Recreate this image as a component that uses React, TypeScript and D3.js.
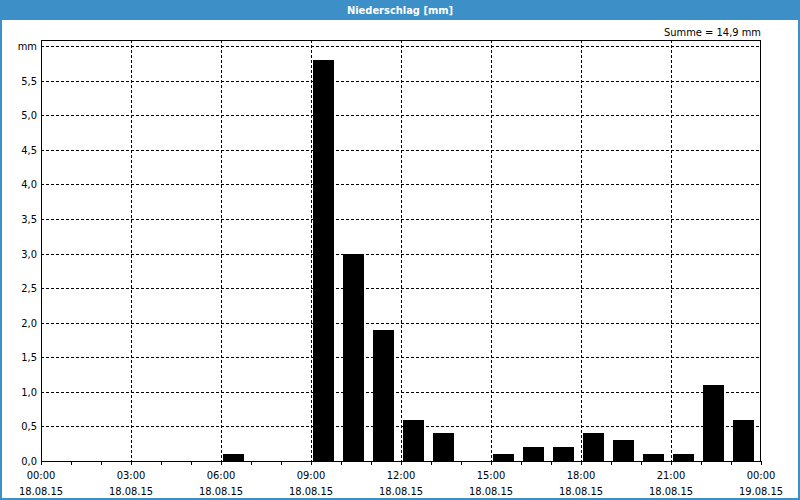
import { useEffect, useRef } from "react";
import * as d3 from "d3";

// hourly precipitation, 18.08.15 00:00 .. 19.08.15 00:00
const hours = d3.range(0, 24);
const rain = [0, 0, 0, 0, 0, 0, 0.1, 0, 0, 5.8, 3.0, 1.9, 0.6, 0.4, 0, 0.1, 0.2, 0.2, 0.4, 0.3, 0.1, 0.1, 1.1, 0.6];
const yTicks = [0, 0.5, 1, 1.5, 2, 2.5, 3, 3.5, 4, 4.5, 5, 5.5, 6];
const xTickHours = [0, 3, 6, 9, 12, 15, 18, 21, 24];
const xTimeLabels = ["00:00", "03:00", "06:00", "09:00", "12:00", "15:00", "18:00", "21:00", "00:00"];
const xDateLabels = ["18.08.15", "18.08.15", "18.08.15", "18.08.15", "18.08.15", "18.08.15", "18.08.15", "18.08.15", "19.08.15"];
const title = "Niederschlag [mm]";
const sumLabel = "Summe = 14,9 mm";

const W = 800, H = 500;
const FONT = "Tahoma, 'DejaVu Sans Condensed', 'DejaVu Sans', sans-serif";

export default function App() {
  const ref = useRef<SVGSVGElement>(null);

  useEffect(() => {
    if (!ref.current) return;
    const svg = d3.select(ref.current);
    svg.selectAll("*").remove();

    const L = 41, R = 761, T = 40, B = 461;
    const x = d3.scaleLinear().domain([0, 24]).range([L, R]);
    const y = d3.scaleLinear().domain([0, 6]).range([B, 46]);

    // window frame
    svg.append("rect").attr("width", W).attr("height", H).attr("fill", "#3c8fc7");
    svg.append("rect").attr("x", 2).attr("y", 20).attr("width", W - 4).attr("height", H - 22).attr("fill", "white");
    svg.append("text").attr("x", W / 2).attr("y", 14).attr("text-anchor", "middle")
      .attr("fill", "white").attr("font-family", FONT).attr("font-weight", "bold").attr("font-size", 11)
      .text(title);

    svg.append("text").attr("x", R).attr("y", 36).attr("text-anchor", "end")
      .attr("font-family", FONT).attr("font-size", 11).attr("fill", "#000").text(sumLabel);

    const g = svg.append("g").attr("shape-rendering", "crispEdges");

    // horizontal grid
    yTicks.forEach(t => {
      if (t > 0) g.append("line").attr("x1", L).attr("x2", R).attr("y1", Math.round(y(t)) + 0.5).attr("y2", Math.round(y(t)) + 0.5)
        .attr("stroke", "#000").attr("stroke-dasharray", "3,2");
      svg.append("text").attr("x", 37).attr("y", y(t) + 4).attr("text-anchor", "end")
        .attr("font-family", FONT).attr("font-size", 11).attr("fill", "#000")
        .text(t === 6 ? "mm" : d3.format(".1f")(t).replace(".", ","));
    });

    // vertical grid
    xTickHours.forEach((h, i) => {
      if (h > 0 && h < 24) g.append("line").attr("x1", Math.round(x(h)) + 0.5).attr("x2", Math.round(x(h)) + 0.5).attr("y1", T).attr("y2", B)
        .attr("stroke", "#000").attr("stroke-dasharray", "3,2");
      svg.append("text").attr("x", x(h)).attr("y", 479).attr("text-anchor", "middle")
        .attr("font-family", FONT).attr("font-size", 11).attr("fill", "#000").text(xTimeLabels[i]);
      svg.append("text").attr("x", x(h)).attr("y", 495).attr("text-anchor", "middle")
        .attr("font-family", FONT).attr("font-size", 11).attr("fill", "#000").text(xDateLabels[i]);
    });

    // bars
    hours.forEach((h, i) => {
      const v = rain[i];
      if (!v) return;
      const x0 = x(h) + 2;
      const bw = x(h + 1) - x(h) - 9;
      g.append("rect").attr("x", x0).attr("y", Math.round(y(v))).attr("width", bw).attr("height", B - Math.round(y(v)))
        .attr("fill", "#000");
    });

    // frame
    g.append("path").attr("d", `M${L + 0.5},${B + 0.5}V${T + 0.5}H${R - 0.5}V${B + 0.5}Z`)
      .attr("fill", "none").attr("stroke", "#000");

    // hourly minor ticks
    d3.range(0, 25).forEach(h => {
      g.append("line").attr("x1", Math.round(x(h)) + 0.5).attr("x2", Math.round(x(h)) + 0.5)
        .attr("y1", B).attr("y2", B + 4).attr("stroke", "#000");
    });
  }, []);

  return (
    <div style={{ position: "fixed", left: 0, top: 0 }}>
      <svg ref={ref} width={W} height={H} style={{ display: "block" }} />
    </div>
  );
}
